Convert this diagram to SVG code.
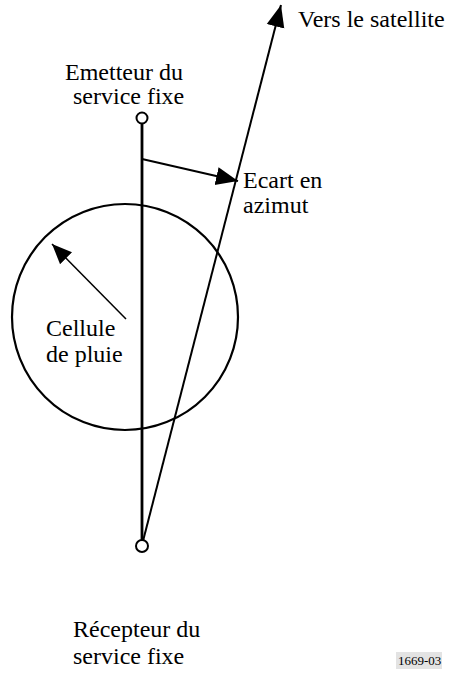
<svg xmlns="http://www.w3.org/2000/svg" width="449" height="675" viewBox="0 0 449 675">
<style>
.t{font-family:"Liberation Serif","Times New Roman","DejaVu Serif",serif;font-size:24px;fill:#000}
.ln{stroke:#000;fill:none}
</style>
<defs>
<marker id="ahl" viewBox="0 0 10 10" refX="10" refY="5" markerWidth="22" markerHeight="22" markerUnits="userSpaceOnUse" orient="auto"><path d="M0,0.9L10,5L0,9.1z" fill="#000"/></marker>
<marker id="ahm" viewBox="0 0 10 10" refX="10" refY="5" markerWidth="20" markerHeight="20" markerUnits="userSpaceOnUse" orient="auto"><path d="M0,0.8L10,5L0,9.2z" fill="#000"/></marker>
</defs>
<rect width="449" height="675" fill="#fff"/>
<g id="rain-cell"><circle class="ln" cx="125" cy="317" r="113" stroke-width="2.2"/></g>
<g id="connectors">
<line class="ln" x1="142" y1="123" x2="142" y2="541" stroke-width="2.8"/>
<line class="ln" x1="143" y1="541" x2="281" y2="5" stroke-width="2" marker-end="url(#ahl)"/>
<line class="ln" x1="142" y1="159" x2="238" y2="181" stroke-width="2" marker-end="url(#ahl)"/>
<line class="ln" x1="126" y1="319" x2="52" y2="244" stroke-width="1.5" marker-end="url(#ahm)"/>
</g>
<g id="emetteur"><circle class="ln" cx="142" cy="118" r="5.5" stroke-width="2" fill="#fff"/>
<text class="t" x="65" y="80">Emetteur du</text><text class="t" x="73" y="104">service fixe</text></g>
<g id="recepteur"><circle class="ln" cx="142" cy="546" r="6" stroke-width="2" fill="#fff"/>
<text class="t" x="73" y="637">Récepteur du</text><text class="t" x="73" y="664">service fixe</text></g>
<g id="satellite"><text class="t" x="298" y="27">Vers le satellite</text></g>
<g id="ecart"><text class="t" x="243" y="188">Ecart en</text><text class="t" x="243" y="213">azimut</text></g>
<g id="cellule"><text class="t" x="46" y="336">Cellule</text><text class="t" x="46" y="362">de pluie</text></g>
<g id="ref"><rect x="396" y="652" width="46" height="17" fill="#e3e3e3"/><text class="t" x="398" y="665" style="font-size:13px">1669-03</text></g>
</svg>
